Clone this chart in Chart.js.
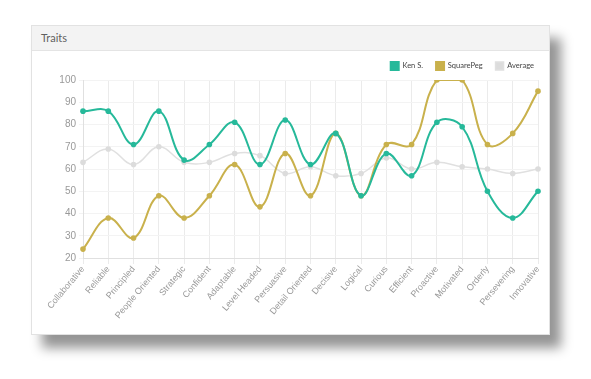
<!DOCTYPE html>
<html>
<head>
<meta charset="utf-8">
<script src="https://cdn.jsdelivr.net/npm/chart.js@4/dist/chart.umd.min.js"></script>
<style>
  html, body { margin:0; padding:0; background:#fff; width:591px; height:379px; overflow:hidden; }
  #card { position:absolute; left:31px; top:25px; width:519px; height:310px; background:#fff;
          border:1px solid #e2e2e2; box-sizing:border-box;
          box-shadow: 11px 13px 11px rgba(0,0,0,0.42); }
  #hdr { position:absolute; left:0; top:0; right:0; height:24px; background:#f3f3f3; border-bottom:1px solid #e4e4e4;
         font-family: Lato, "Open Sans", sans-serif; font-size:11px; color:#5f5f5f; line-height:24px; padding-left:9px; }
  #wrap { position:absolute; left:0; top:25px; width:519px; height:284px; }
</style>
</head>
<body>
<div id="card">
  <div id="hdr">Traits</div>
  <div id="wrap"><canvas id="c" width="519" height="284"></canvas></div>
</div>
<script>
const categories = ["Collaborative","Reliable","Principled","People Oriented","Strategic","Confident","Adaptable","Level Headed","Persuasive","Detail Oriented","Decisive","Logical","Curious","Efficient","Proactive","Motivated","Orderly","Persevering","Innovative"];
const kenS      = [86,86,71,86,64,71,81,62,82,62,76,48,67,57,81,79,50,38,50];
const squarePeg = [24,38,29,48,38,48,62,43,67,48,76,48,71,71,100,100,71,76,95];
const average   = [63,69,62,70,63,63,67,66,58,61,57,58,65,60,63,61,60,58,60];
const yTicks = [20,30,40,50,60,70,80,90,100];

const tickFont = { family: "'Helvetica Neue', Helvetica, Arial, 'Liberation Sans', sans-serif", size: 9 };

// nudge the legend box horizontally so it ends near the plot's right edge
const legendShift = {
  id: 'legendShift',
  afterLayout(chart) {
    const lg = chart.legend;
    if (lg) { lg.left += 9; lg.right += 9; }
  }
};

new Chart(document.getElementById('c'), {
  type: 'line',
  data: {
    labels: categories,
    datasets: [
      { label: 'Ken S.', data: kenS, borderColor: '#26B99A', backgroundColor: '#26B99A',
        pointBackgroundColor: '#26B99A', pointBorderColor: '#26B99A', borderWidth: 2, pointRadius: 2.8, pointBorderWidth: 0, tension: 0.4, fill: false },
      { label: 'SquarePeg', data: squarePeg, borderColor: '#C9B14C', backgroundColor: '#C9B14C',
        pointBackgroundColor: '#C9B14C', pointBorderColor: '#C9B14C', borderWidth: 2, pointRadius: 2.8, pointBorderWidth: 0, tension: 0.4, fill: false },
      { label: 'Average', data: average, borderColor: '#E0E0E0', backgroundColor: '#DCDCDC',
        pointBackgroundColor: '#DCDCDC', pointBorderColor: '#DCDCDC', borderWidth: 1.5, pointRadius: 2.8, pointBorderWidth: 0, tension: 0.4, fill: false }
    ]
  },
  plugins: [legendShift],
  options: {
    responsive: false,
    animation: false,
    devicePixelRatio: 1,
    layout: { padding: { left: 0, right: 13, top: -2, bottom: 0 } },
    plugins: {
      legend: {
        position: 'top', align: 'end',
        labels: { boxWidth: 8, boxHeight: 8, padding: 13, color: '#444',
                  font: { family: "Lato, 'Open Sans', sans-serif", size: 7.5 } }
      },
      tooltip: { enabled: false }
    },
    scales: {
      x: {
        offset: false,
        grid: { color: '#ebebeb', tickLength: 6, drawTicks: true },
        border: { color: '#e0e0e0' },
        ticks: { color: '#999', font: tickFont, minRotation: 50, maxRotation: 50, autoSkip: false, padding: 0 },
        afterFit: s => { s.height = 77; }
      },
      y: {
        min: 20, max: 100,
        afterBuildTicks: s => { s.ticks = yTicks.map(v => ({ value: v })); },
        grid: { color: '#f3f3f3', tickLength: 4 },
        border: { color: '#e0e0e0' },
        ticks: { color: '#999', font: { ...tickFont, size: 10 }, padding: 3 },
        afterFit: s => { s.width = 51; }
      }
    }
  }
});
</script>
</body>
</html>
